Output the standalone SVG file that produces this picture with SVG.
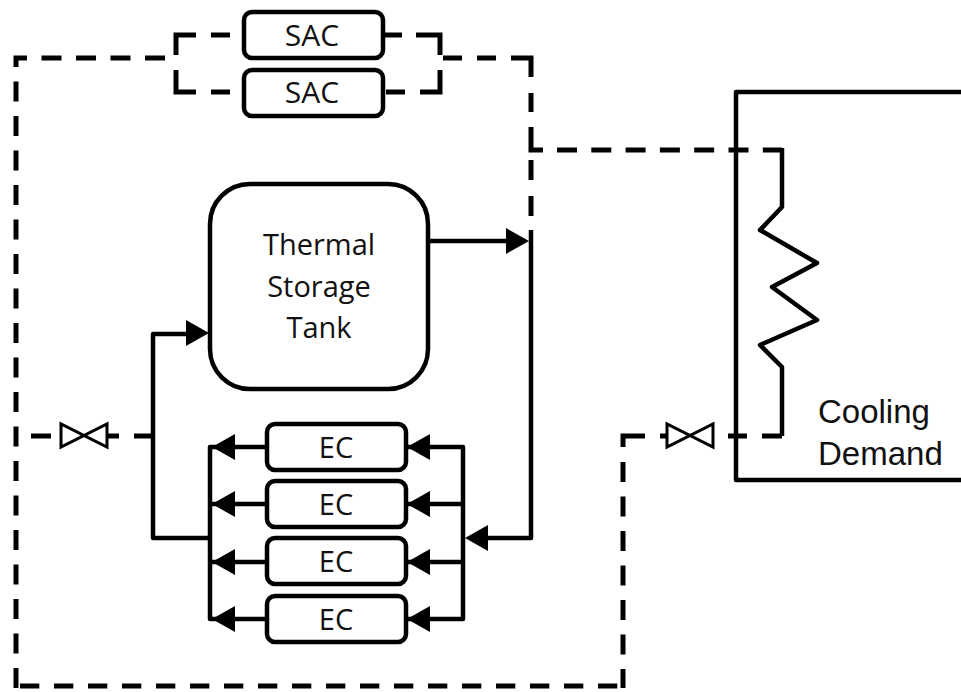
<svg xmlns="http://www.w3.org/2000/svg" width="961" height="692" viewBox="0 0 961 692">
<style>
.l{fill:none;stroke:#000;stroke-width:4.5;stroke-linejoin:round}
.d{stroke-width:5;stroke-linejoin:miter}
.b{fill:#fff;stroke:#000;stroke-width:4.5}
.v{fill:#fff;stroke:#000;stroke-width:3}
.a{fill:#000}
.t{font-family:"Open Sans","Noto Sans",sans-serif;font-size:29px;fill:#111;text-anchor:middle}
.h{font-family:"Liberation Sans",Arial,sans-serif;font-size:33px;fill:#111}
</style>
<defs>
<path id="ah" class="a" d="M0 0L23 -13V13Z"/>
<path id="ar" class="a" d="M0 0L-23 -13V13Z"/>
</defs>
<g id="connectors">
<path class="l d" stroke-dasharray="20 14.5" d="M165 58H16V688"/>
<path class="l d" stroke-dasharray="19.3 14.7" d="M20 686H621"/>
<path class="l d" d="M645 436H623V447"/>
<path class="l d" stroke-dasharray="20 14.5" d="M623 462V688"/>
<path class="l d" d="M660 436H667"/>
<path class="l d" d="M196 35H176V55M211 35H230M176 70V92H196M211 92H230"/>
<path class="l d" d="M384 35H402M416 35H440V55M386 92H405M420 92H440V70"/>
<path class="l d" d="M443 58H462M477 58H496M511 58H531V77M531 93V112M531 127V150H543"/>
<path class="l d" stroke-dasharray="20 14.3" d="M557 150H782"/>
<path class="l d" d="M531 160V180M531 196V216"/>
<path class="l" d="M782 148V207L760 230L817 263L772 287L817 320L760 345L782 367V436"/>
<path class="l d" d="M782 436H762M747 436H728"/>
<path class="l d" d="M31 436H51M107 436H119M134 436H153"/>
<path class="l" d="M428 241H510"/>
<use href="#ar" x="529" y="241"/>
<path class="l" d="M531 230V538H485"/>
<use href="#ah" x="465" y="538"/>
<path class="l" d="M405 447H463V619H405M463 504H405M463 562H405"/>
<use href="#ah" x="407" y="447"/><use href="#ah" x="407" y="504"/><use href="#ah" x="407" y="562"/><use href="#ah" x="407" y="619"/>
<path class="l" d="M268 447H210V619H268M268 504H210M268 562H210"/>
<use href="#ah" x="212" y="447"/><use href="#ah" x="212" y="504"/><use href="#ah" x="212" y="562"/><use href="#ah" x="212" y="619"/>
<path class="l" d="M210 538H153V334H190"/>
<use href="#ar" x="209" y="333"/>
</g>
<g id="valve-left"><path class="v" d="M61 424V447L107 424V447Z"/></g>
<g id="valve-right"><path class="v" d="M667 424V447L713 424V447Z"/></g>
<g id="sac-1"><rect class="b" x="244" y="12" width="139" height="46" rx="8"/><text class="t" x="312" y="46" style="font-size:30px">SAC</text></g>
<g id="sac-2"><rect class="b" x="244" y="70" width="139" height="46" rx="8"/><text class="t" x="312" y="103" style="font-size:30px">SAC</text></g>
<g id="tank"><rect class="b" x="210" y="184" width="218" height="205" rx="40"/>
<text class="t" x="319" y="255">Thermal</text><text class="t" x="319" y="297">Storage</text><text class="t" x="319" y="338">Tank</text></g>
<g id="ec-1"><rect class="b" x="267" y="424" width="139" height="46" rx="8"/><text class="t" x="336" y="458">EC</text></g>
<g id="ec-2"><rect class="b" x="267" y="481" width="139" height="46" rx="8"/><text class="t" x="336" y="515">EC</text></g>
<g id="ec-3"><rect class="b" x="267" y="538" width="139" height="46" rx="8"/><text class="t" x="336" y="572">EC</text></g>
<g id="ec-4"><rect class="b" x="267" y="596" width="139" height="46" rx="8"/><text class="t" x="336" y="630">EC</text></g>
<g id="cooling-demand"><path class="l" d="M961 92H736V480H961"/>
<text class="h" x="818" y="423">Cooling</text><text class="h" x="818" y="465">Demand</text></g>
</svg>
